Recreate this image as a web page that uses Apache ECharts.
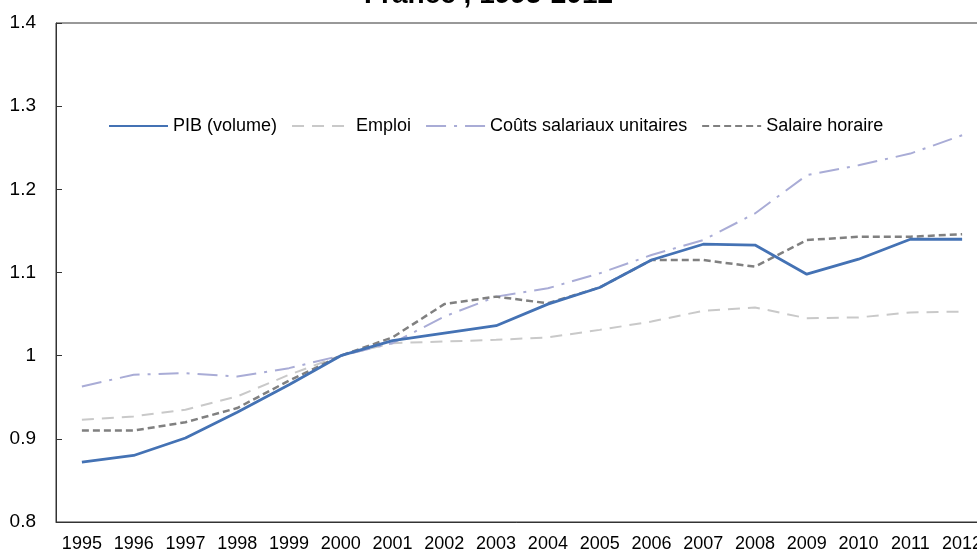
<!DOCTYPE html>
<html><head><meta charset="utf-8">
<script src="https://cdn.jsdelivr.net/npm/echarts@6/dist/echarts.min.js"></script>
<style>html,body{margin:0;padding:0;background:#fff}#c{width:977px;height:554px}</style>
</head><body><div id="c"></div>
<script>
const years = ['1995','1996','1997','1998','1999','2000','2001','2002','2003','2004','2005','2006','2007','2008','2009','2010','2011','2012'];
const pib = [0.872,0.880,0.901,0.932,0.965,1.000,1.018,1.027,1.036,1.062,1.082,1.115,1.134,1.133,1.098,1.116,1.140,1.140];
const emploi = [0.923,0.927,0.935,0.951,0.977,1.000,1.015,1.017,1.019,1.022,1.031,1.041,1.054,1.058,1.045,1.046,1.052,1.053];
const csu = [0.963,0.977,0.979,0.975,0.985,1.000,1.015,1.047,1.071,1.081,1.099,1.121,1.139,1.171,1.217,1.229,1.243,1.265];
const salaire = [0.910,0.910,0.920,0.937,0.970,1.000,1.022,1.062,1.071,1.063,1.082,1.115,1.115,1.107,1.139,1.143,1.143,1.146];
const yTicks = {min:0.8,max:1.4,interval:0.1};

const font = 'Liberation Sans, Arial, sans-serif';
const chart = echarts.init(document.getElementById('c'));
chart.setOption({
  animation:false,
  title:{text:'France , 1995-2012',left:'center',top:-24,textStyle:{fontSize:28,fontWeight:'bold',color:'#000',fontFamily:font}},
  legend:{left:103,top:112,itemWidth:59,itemHeight:10,itemGap:14,
    itemStyle:{opacity:0},
    textStyle:{fontSize:18,color:'#000',fontFamily:font},
    data:['PIB (volume)','Emploi','Coûts salariaux unitaires','Salaire horaire']},
  grid:{left:56,width:932,top:23,height:499,show:true,borderColor:'#333',borderWidth:1,containLabel:false,outerBoundsMode:'none'},
  xAxis:{type:'category',data:years,boundaryGap:true,
    axisLine:{lineStyle:{color:'#333'}},
    axisTick:{inside:true,length:6,lineStyle:{color:'#333'}},
    axisLabel:{color:'#000',fontSize:18,fontFamily:font,margin:13,interval:0,hideOverlap:false}},
  yAxis:{type:'value',min:yTicks.min,max:yTicks.max,interval:yTicks.interval,
    axisLine:{show:true,lineStyle:{color:'#333'}},
    axisTick:{show:true,inside:true,length:6,lineStyle:{color:'#333'}},
    splitLine:{show:false},
    axisLabel:{color:'#000',fontSize:19,fontFamily:font,margin:20,formatter:v=>String(+v.toFixed(1))}},
  series:[
    {name:'PIB (volume)',type:'line',data:pib,symbol:'none',lineStyle:{color:'#4472b4',width:2.8},itemStyle:{color:'#4472b4'},z:4},
    {name:'Emploi',type:'line',data:emploi,symbol:'none',lineStyle:{color:'#c9c9c9',width:2,type:[12,8]},itemStyle:{color:'#c9c9c9'},z:2},
    {name:'Coûts salariaux unitaires',type:'line',data:csu,symbol:'none',lineStyle:{color:'#a9acd6',width:2,type:[20,8,3,8]},itemStyle:{color:'#a9acd6'},z:3},
    {name:'Salaire horaire',type:'line',data:salaire,symbol:'none',lineStyle:{color:'#808080',width:2.5,type:[7,4]},itemStyle:{color:'#808080'},z:3}
  ]
});
</script></body></html>
